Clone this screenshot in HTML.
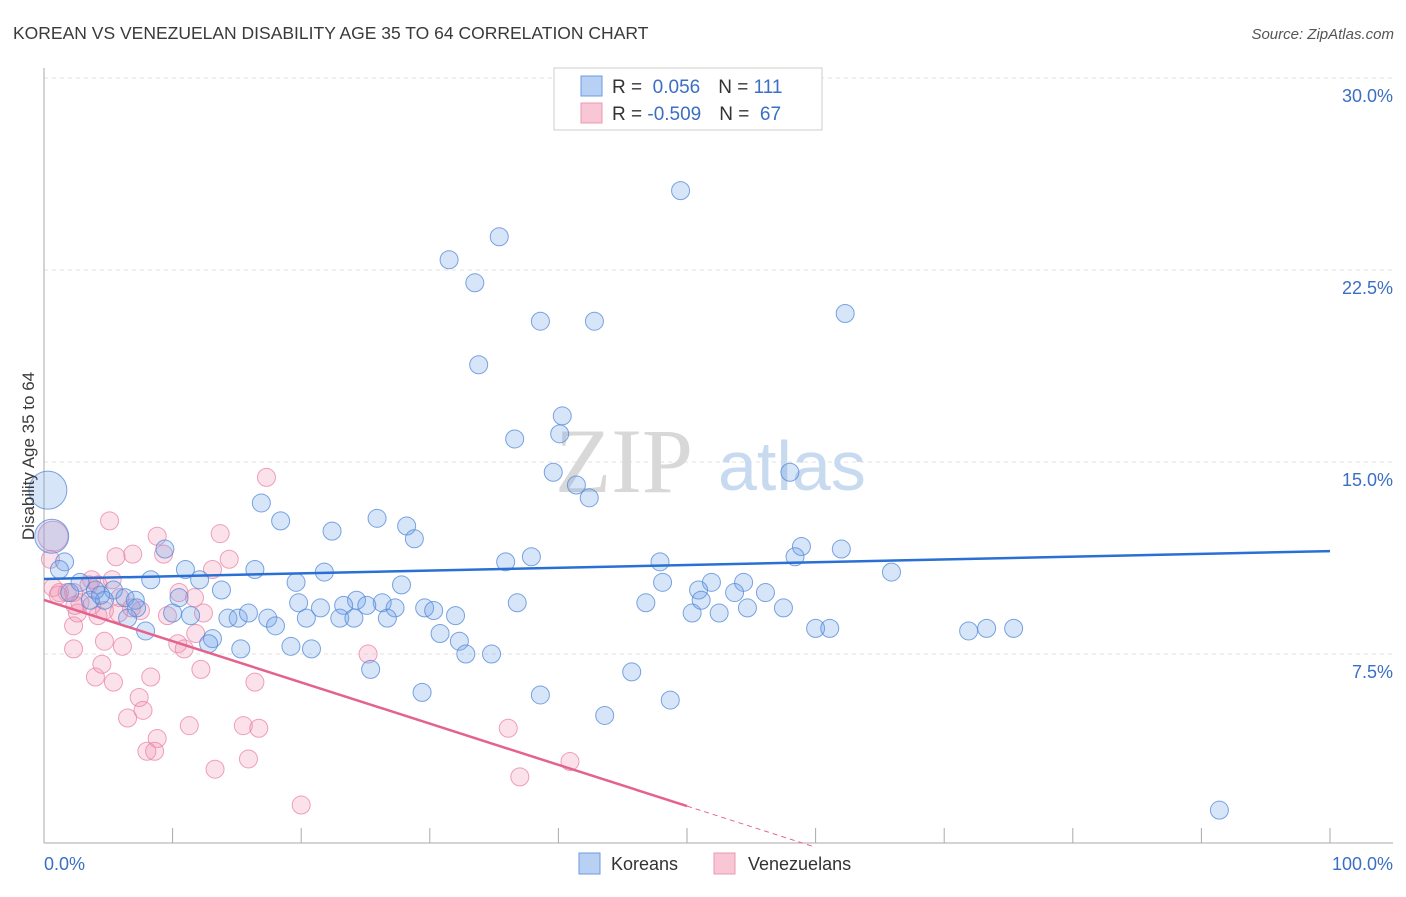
<!DOCTYPE html>
<html><head><meta charset="utf-8"><style>
body{margin:0;background:#fff;font-family:"Liberation Sans",sans-serif}
</style></head><body>
<svg id="c" width="1406" height="892" xmlns="http://www.w3.org/2000/svg" style="font-family:'Liberation Sans',sans-serif">
<text x="13" y="39" font-size="17.5" fill="#3a3a3a">KOREAN VS VENEZUELAN DISABILITY AGE 35 TO 64 CORRELATION CHART</text>
<text x="1394" y="39" font-size="15" fill="#555" font-style="italic" text-anchor="end">Source: ZipAtlas.com</text>
<g id="grid"></g>
<text x="555" y="492" font-size="92" font-family="'Liberation Serif',serif" fill="#d8d8d8">ZIP</text>
<text x="718" y="490" font-size="70" fill="#c8daf0">atlas</text>
<g id="pts"></g>
<g id="lines"></g>
<text x="34" y="456" font-size="17" fill="#3a3a3a" transform="rotate(-90 34 456)" text-anchor="middle">Disability Age 35 to 64</text>
<text x="44" y="870" font-size="18" fill="#3a6fc4">0.0%</text>
<text x="1393" y="870" font-size="18" fill="#3a6fc4" text-anchor="end">100.0%</text>
<g>
<rect x="554" y="68" width="268" height="62" fill="#fff" stroke="#ccc"/>
<rect x="581" y="76" width="21" height="20" fill="#b7d0f3" stroke="#6a9be0"/>
<rect x="581" y="103" width="21" height="20" fill="#f8c6d5" stroke="#ec98b2"/>
<text x="612" y="93" font-size="19" fill="#333">R = <tspan fill="#3a6fc4">&#160;0.056</tspan><tspan dx="18">N = </tspan><tspan fill="#3a6fc4">111</tspan></text>
<text x="612" y="120" font-size="19" fill="#333">R = <tspan fill="#3a6fc4">-0.509</tspan><tspan dx="18">N = </tspan><tspan fill="#3a6fc4">&#160;67</tspan></text>
</g>
<g>
<rect x="579" y="853" width="21" height="21" fill="#b7d0f3" stroke="#6a9be0"/>
<text x="611" y="870" font-size="18" fill="#333">Koreans</text>
<rect x="714" y="853" width="21" height="21" fill="#f8c6d5" stroke="#ec98b2"/>
<text x="748" y="870" font-size="18" fill="#333">Venezuelans</text>
</g>
</svg>
<script>
const yTicks=[7.5,15,22.5,30];
const yTickLabels=["7.5%","15.0%","22.5%","30.0%"];
const korX=[49.5,35.4,31.5,33.5,38.6,42.8,62.3,33.8,40.3,40.1,36.6,39.6,41.4,42.4,58.0,16.9,18.4,25.9,28.2,22.4,28.8,9.4,58.9,62.0,58.4,47.9,35.9,37.9,65.9,11.0,16.4,21.8,8.3,12.1,19.6,48.1,51.9,54.4,27.8,5.4,13.8,24.3,26.3,50.9,53.7,56.1,6.3,4.7,7.1,10.5,3.6,46.8,36.8,19.8,21.5,23.3,25.1,27.3,29.6,7.2,10.0,30.3,32.0,57.5,54.7,50.4,52.5,51.1,14.3,15.1,15.9,17.4,20.4,23.0,24.1,26.7,6.5,11.4,18.0,60.0,61.1,73.3,75.4,71.9,30.8,32.3,13.1,12.8,7.9,15.3,19.2,20.8,32.8,34.8,25.4,45.7,29.4,38.6,48.7,43.6,91.4,0.3,0.6,1.6,4.0,2.8,4.4,2.0,1.2];
const korY=[25.6,23.8,22.9,22.0,20.5,20.5,20.8,18.8,16.8,16.1,15.9,14.6,14.1,13.6,14.6,13.4,12.7,12.8,12.5,12.3,12.0,11.6,11.7,11.6,11.3,11.1,11.1,11.3,10.7,10.8,10.8,10.7,10.4,10.4,10.3,10.3,10.3,10.3,10.2,10.0,10.0,9.6,9.5,10.0,9.9,9.9,9.7,9.6,9.6,9.7,9.6,9.5,9.5,9.5,9.3,9.4,9.4,9.3,9.3,9.3,9.1,9.2,9.0,9.3,9.3,9.1,9.1,9.6,8.9,8.9,9.1,8.9,8.9,8.9,8.9,8.9,8.9,9.0,8.6,8.5,8.5,8.5,8.5,8.4,8.3,8.0,8.1,7.9,8.4,7.7,7.8,7.7,7.5,7.5,6.9,6.8,6.0,5.9,5.7,5.1,1.4,13.9,12.1,11.1,10.0,10.3,9.8,9.9,10.8];
const venX=[0.7,17.3,5.1,8.8,13.7,9.3,6.9,5.6,14.4,13.1,3.7,0.5,0.7,1.2,1.8,2.3,2.8,3.5,10.5,11.7,4.7,7.5,12.4,2.3,2.6,4.2,5.8,6.8,9.6,11.8,4.7,6.1,10.4,10.9,2.3,4.0,4.5,5.4,8.3,12.2,7.4,7.7,6.5,8.8,8.0,8.6,11.3,15.5,16.7,16.4,15.9,13.3,20.0,25.2,36.1,37.0,40.9,5.9,1.1,2.4,3.7,5.3,4.2];
const venY=[12.1,14.4,12.7,12.1,12.2,11.4,11.4,11.3,11.2,10.8,10.4,11.2,10.1,9.9,9.9,9.9,9.5,10.2,9.9,9.7,9.2,9.2,9.1,8.6,9.1,9.0,9.1,9.3,9.0,8.3,8.0,7.8,7.9,7.7,7.7,6.6,7.1,6.4,6.6,6.9,5.8,5.3,5.0,4.2,3.7,3.7,4.7,4.7,4.6,6.4,3.4,3.0,1.6,7.5,4.6,2.7,3.3,9.7,9.8,9.4,9.4,10.4,10.2];
const korTrend=[10.43,11.52];
const venTrend=[9.61,-0.05];
const NS="http://www.w3.org/2000/svg";
const X=v=>44+v*12.86, Y=v=>846-v*25.6;
function mk(t,a,p){const e=document.createElementNS(NS,t);for(const k in a)e.setAttribute(k,a[k]);p.appendChild(e);return e;}
const grid=document.getElementById('grid');
yTicks.forEach((t,i)=>{
 const l=mk('line',{x1:44,x2:1393,y1:Y(t),y2:Y(t),stroke:'#e2e2e2','stroke-dasharray':'4,4'},grid);
 
 
 const tx=mk('text',{x:1393,y:Y(t)+24,'font-size':18,fill:'#3a6fc4','text-anchor':'end'},grid);
 tx.textContent=yTickLabels[i];
 
 
});
const ax=mk('line',{x1:44,x2:1393,y1:843,y2:843,stroke:'#aaa'},grid);


const ay=mk('line',{x1:44,x2:44,y1:68,y2:843,stroke:'#aaa'},grid);


for(let k=1;k<=10;k++){const t=mk('line',{x1:X(k*10),x2:X(k*10),y1:828,y2:843,stroke:'#aaa'},grid);
 
 }
const pts=document.getElementById('pts');
venX.forEach((x,i)=>{const c=mk('circle',{cx:X(x),cy:Y(venY[i]),r:i==0?15:9,fill:'rgba(242,150,180,0.28)',stroke:'rgba(234,130,165,0.75)','stroke-width':1},pts);
 
 });
korX.forEach((x,i)=>{const r=i==101?19:(i==102?17:9);const c=mk('circle',{cx:X(x),cy:Y(korY[i]),r:r,fill:'rgba(110,160,235,0.28)',stroke:'rgba(80,135,215,0.75)','stroke-width':1},pts);
 
 });
const lines=document.getElementById('lines');
const kl=mk('line',{x1:X(0),y1:Y(korTrend[0]),x2:X(100),y2:Y(korTrend[1]),stroke:'#2a6fd4','stroke-width':2.5},lines);


const vAt=x=>venTrend[0]+(venTrend[1]-venTrend[0])*x/60;
const vl=mk('line',{x1:X(0),y1:Y(vAt(0)),x2:X(50),y2:Y(vAt(50)),stroke:'#e4628e','stroke-width':2.5},lines);


const vd=mk('line',{x1:X(50),y1:Y(vAt(50)),x2:X(60),y2:Y(vAt(60)),stroke:'#e4628e','stroke-width':1,'stroke-dasharray':'5,4'},lines);


</script>
</body></html>
